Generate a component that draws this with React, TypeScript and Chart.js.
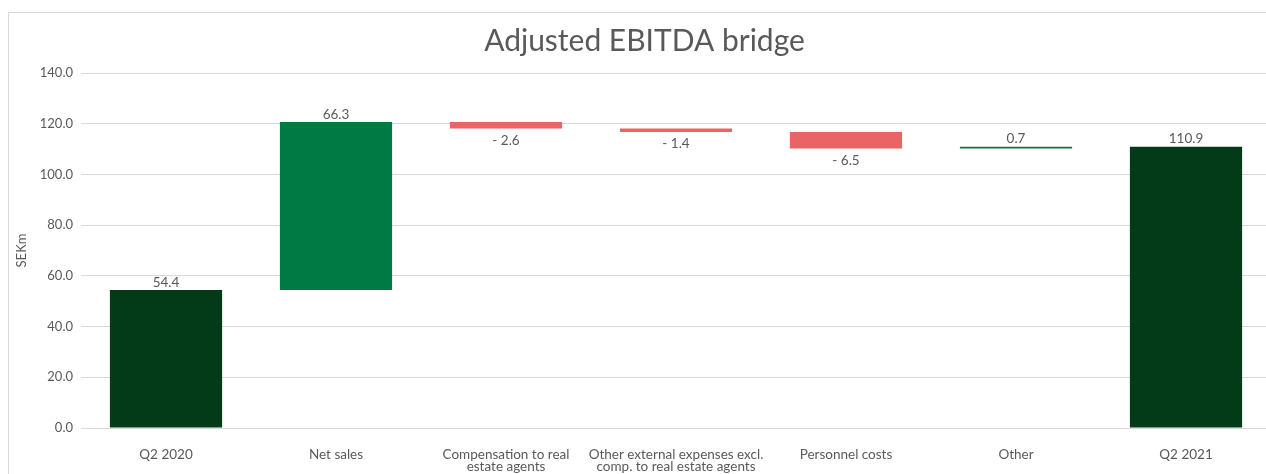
import React, { useEffect, useRef } from "react";
import { Chart, registerables } from "chart.js";
Chart.register(...registerables);

const titleText = "Adjusted EBITDA bridge";
const yAxisTitle = "SEKm";
const categories: string[][] = [
  ["Q2 2020"],
  ["Net sales"],
  ["Compensation to real", "estate agents"],
  ["Other external expenses excl.", "comp. to real estate agents"],
  ["Personnel costs"],
  ["Other"],
  ["Q2 2021"],
];
const changes = [54.4, 66.3, -2.6, -1.4, -6.5, 0.7, 110.9];
const isTotal = [true, false, false, false, false, false, true];
const yMin = 0;
const yMax = 140;
const yStep = 20;

const COLOR_TOTAL = "#033A17";
const COLOR_UP = "#007A45";
const COLOR_DOWN = "#E96464";
const TEXT = "#595959";
const GRID = "#D9D9D9";
const FONT = "Lato, 'Open Sans', sans-serif";

function buildRanges(): [number, number][] {
  const out: [number, number][] = [];
  let run = 0;
  changes.forEach((v, i) => {
    if (isTotal[i]) {
      out.push([0, v]);
      run = v;
    } else {
      out.push([run, run + v]);
      run = run + v;
    }
  });
  return out;
}

function fmt(v: number, total: boolean) {
  if (total || v >= 0) return v.toFixed(1);
  return "- " + Math.abs(v).toFixed(1);
}

const labelPlugin = {
  id: "wfLabels",
  afterDatasetsDraw(chart: any) {
    const ctx = chart.ctx;
    const meta = chart.getDatasetMeta(0);
    ctx.save();
    ctx.font = `13.5px ${FONT}`;
    ctx.fillStyle = TEXT;
    ctx.textAlign = "center";
    meta.data.forEach((el: any, i: number) => {
      const top = Math.min(el.y, el.base);
      const bottom = Math.max(el.y, el.base);
      const v = changes[i];
      const txt = fmt(v, isTotal[i]);
      if (isTotal[i] || v >= 0) {
        ctx.textBaseline = "bottom";
        ctx.fillText(txt, el.x, top - 1);
      } else {
        ctx.textBaseline = "top";
        ctx.fillText(txt, el.x, bottom + 5);
      }
    });
    ctx.restore();
  },
};

const titlePlugin = {
  id: "wfTitle",
  afterDraw(chart: any) {
    const ctx = chart.ctx;
    ctx.save();
    ctx.font = `30px ${FONT}`;
    ctx.fillStyle = TEXT;
    ctx.textAlign = "center";
    ctx.textBaseline = "middle";
    ctx.fillText(titleText, 635.5, 28);
    ctx.restore();
  },
};

export default function App() {
  const ref = useRef<HTMLCanvasElement>(null);
  useEffect(() => {
    if (!ref.current) return;
    const ranges = buildRanges();
    const colors = changes.map((v, i) =>
      isTotal[i] ? COLOR_TOTAL : v >= 0 ? COLOR_UP : COLOR_DOWN
    );
    const chart = new Chart(ref.current, {
      type: "bar",
      data: {
        labels: categories as any,
        datasets: [
          {
            data: ranges as any,
            backgroundColor: colors,
            borderWidth: 0,
            borderSkipped: false,
            categoryPercentage: 1,
            barPercentage: 0.66,
          },
        ],
      },
      options: {
        animation: false,
        responsive: false,
        maintainAspectRatio: false,
        layout: { padding: { top: 60, right: 0, left: 5, bottom: 0 } },
        plugins: {
          legend: { display: false },
          tooltip: { enabled: false },
          title: { display: false },
        },
        scales: {
          x: {
            grid: { display: false },
            border: { display: false },
            ticks: {
              color: TEXT,
              font: { family: FONT, size: 13.5, lineHeight: 0.85 },
              maxRotation: 0,
              autoSkip: false,
              padding: 13,
            },
            afterFit: (s: any) => {
              s.height = 45;
            },
          },
          y: {
            min: yMin,
            max: yMax,
            grid: { color: GRID, drawTicks: false },
            border: { display: false },
            ticks: {
              stepSize: yStep,
              color: TEXT,
              font: { family: FONT, size: 13 },
              padding: 8,
              callback: (v: any) => Number(v).toFixed(1),
            },
            title: {
              display: true,
              text: yAxisTitle,
              color: TEXT,
              font: { family: FONT, size: 13 },
              padding: { top: 0, bottom: 4 },
            },
            afterFit: (s: any) => {
              s.width = 67;
            },
          },
        },
      },
      plugins: [labelPlugin, titlePlugin],
    });
    return () => chart.destroy();
  }, []);
  return (
    <div
      style={{
        position: "absolute",
        left: 8,
        top: 12,
        width: 1300,
        height: 520,
        border: "1px solid #D9D9D9",
        background: "#fff",
      }}
    >
      <canvas ref={ref} width={1262} height={460} style={{ display: "block" }} />
    </div>
  );
}
